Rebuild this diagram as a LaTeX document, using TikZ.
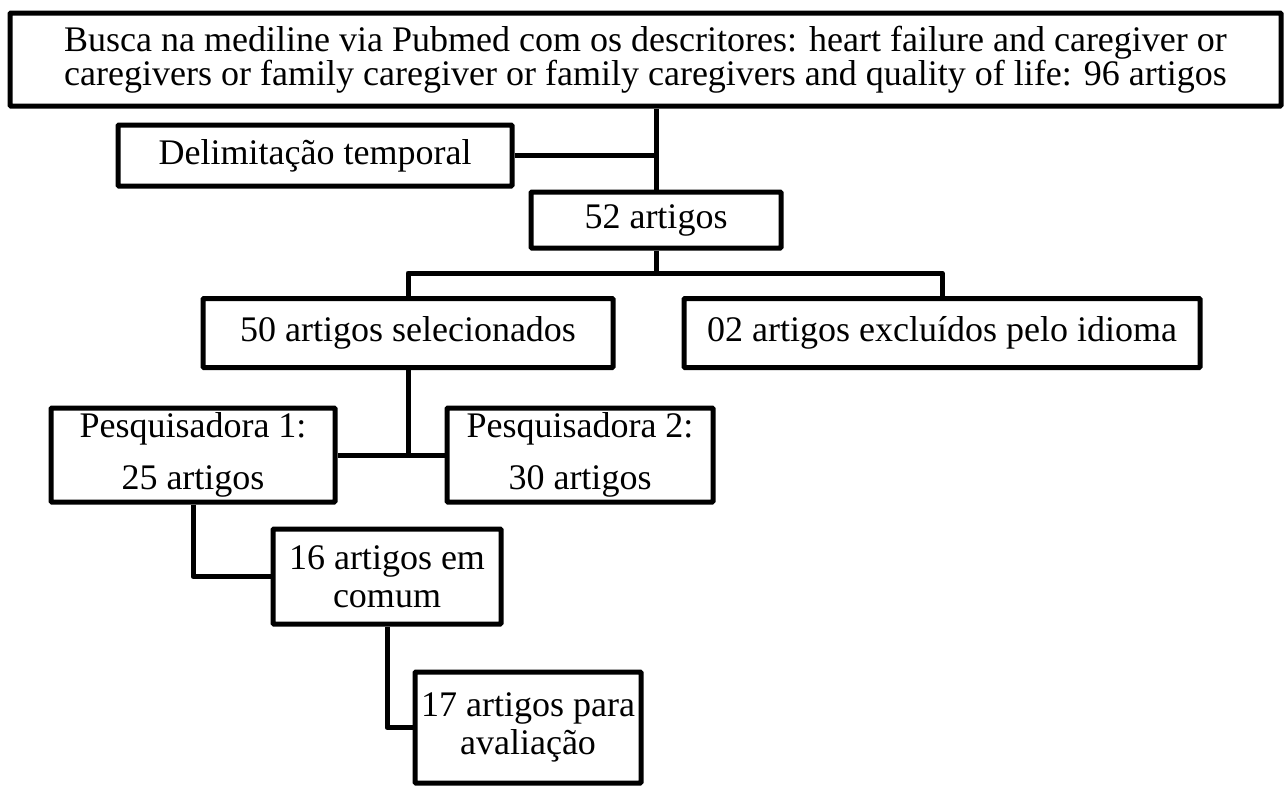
\documentclass[tikz,border=0pt]{standalone}
\usepackage{fontspec}
\setmainfont{Liberation Serif}
\begin{document}
\begin{tikzpicture}[x=1pt,y=-1pt,
  box/.style={draw=black, line width=5pt, fill=white, inner sep=0pt, align=center,
    rounded corners=1pt, font=\fontsize{36}{38}\selectfont},
  conn/.style={draw=black, line width=5pt, line join=round}]
\useasboundingbox (0,0) rectangle (1287,785);
\node[box, minimum width=1271pt, minimum height=93pt, font=\fontsize{36}{34}\selectfont] (top) at (645.5,59.5)
  {Busca na mediline via Pubmed com os descritores: heart failure and caregiver or\\
   caregivers or family caregiver or family caregivers and quality of life: 96 artigos};
\node[box, minimum width=394pt, minimum height=61pt] (delim) at (315,155.5) {Delimitação temporal};
\node[box, minimum width=250pt, minimum height=56pt] (n52) at (656,220) {52 artigos};
\node[box, minimum width=410pt, minimum height=69pt] (sel) at (408,333) {50 artigos selecionados};
\node[box, minimum width=516pt, minimum height=69pt] (exc) at (942,333) {02 artigos excluídos pelo idioma};
\node[box, minimum width=284pt, minimum height=94pt] (p1) at (193,455) {Pesquisadora 1:\\[14pt] 25 artigos};
\node[box, minimum width=266pt, minimum height=94pt] (p2) at (580,455) {Pesquisadora 2:\\[14pt] 30 artigos};
\node[box, minimum width=228pt, minimum height=95pt] (c16) at (387,576.5) {16 artigos em\\ comum};
\node[box, minimum width=226pt, minimum height=111pt] (c17) at (528,727.5) {17 artigos para\\ avaliação};
\coordinate (bus) at (656,273);
\draw[conn] (top.south -| n52.north) -- (n52.north);
\draw[conn] (delim.east) -- (delim.east -| n52.north);
\draw[conn] (n52.south) -- (bus);
\draw[conn] (sel.north) |- (bus) -| (exc.north);
\draw[conn] (p1.east) -- (p2.west);
\draw[conn] (sel.south) -- (sel.south |- p1.east);
\draw[conn] (p1.south) |- (c16.west);
\draw[conn] (c16.south) |- (c17.west);
\end{tikzpicture}
\end{document}
